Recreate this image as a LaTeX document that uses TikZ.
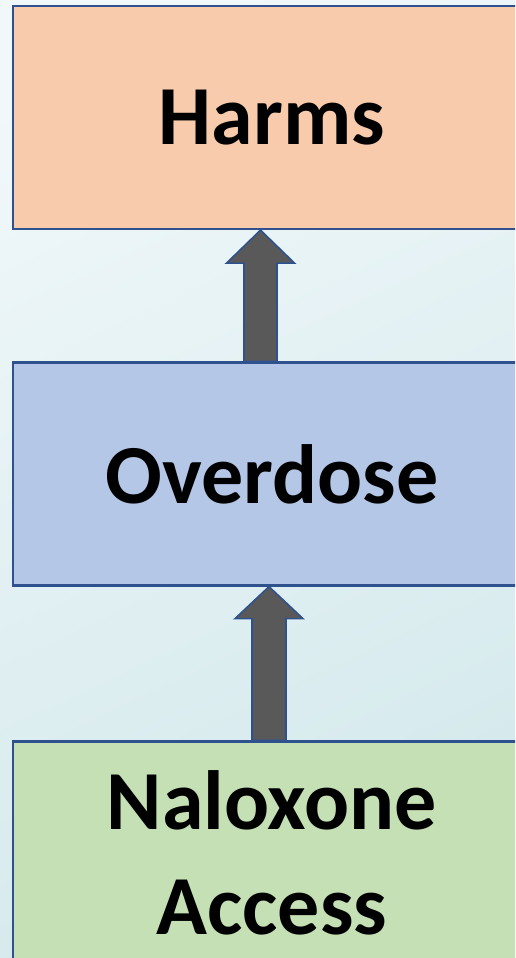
\documentclass[tikz,border=0pt]{standalone}
\usepackage{fontspec}
\setmainfont{Carlito}
\usepackage{xcolor}
\usetikzlibrary{positioning}
\usetikzlibrary{calc}
\definecolor{bordblue}{HTML}{2F528F}
\definecolor{harmsfill}{HTML}{F8CBAD}
\definecolor{odfill}{HTML}{B4C7E7}
\definecolor{naloxfill}{HTML}{C5E0B4}
\definecolor{arrgray}{HTML}{595959}
\definecolor{bgtop}{HTML}{F1F8FA}
\definecolor{bgbot}{HTML}{D2E8EB}
\tikzset{%
	stage/.style={rectangle,draw=bordblue,line width=1.3,minimum width=10.36cm,minimum height=4.46cm,align=center,font=\bfseries\fontsize{47.8}{59.5}\selectfont},
	fatarr/.style={draw=bordblue,fill=arrgray,line width=0.9,line join=miter},
}

\begin{document}
\begin{tikzpicture}
	\useasboundingbox (0,0) rectangle (10.3,19.16);
	\clip (0,0) rectangle (10.3,19.16);
	\shade[top color=bgtop,bottom color=bgbot,shading angle=25] (-1,-1) rectangle (11.3,20.16);
	
	\node (harms) at (5.44,16.81) [stage,fill=harmsfill] {Harms};
	\node (ovd) at (5.44,9.68) [stage,fill=odfill] {Overdose};
	\node (nalox) at (5.44,2.10) [stage,fill=naloxfill] {Naloxone\\Access};
	
	% overdose -> harms
	\draw[fatarr] ([xshift=-0.56cm]ovd.north) -- ([xshift=-0.56cm,yshift=-0.66cm]harms.south) -- ([xshift=-0.91cm,yshift=-0.66cm]harms.south) -- ([xshift=-0.23cm]harms.south) -- ([xshift=0.45cm,yshift=-0.66cm]harms.south) -- ([xshift=0.10cm,yshift=-0.66cm]harms.south) -- ([xshift=0.10cm]ovd.north) -- cycle;
	% naloxone -> overdose
	\draw[fatarr] ([xshift=-0.40cm]nalox.north) -- ([xshift=-0.40cm,yshift=-0.64cm]ovd.south) -- ([xshift=-0.74cm,yshift=-0.64cm]ovd.south) -- ([xshift=-0.06cm]ovd.south) -- ([xshift=0.62cm,yshift=-0.64cm]ovd.south) -- ([xshift=0.28cm,yshift=-0.64cm]ovd.south) -- ([xshift=0.28cm]nalox.north) -- cycle;
\end{tikzpicture}
\end{document}
